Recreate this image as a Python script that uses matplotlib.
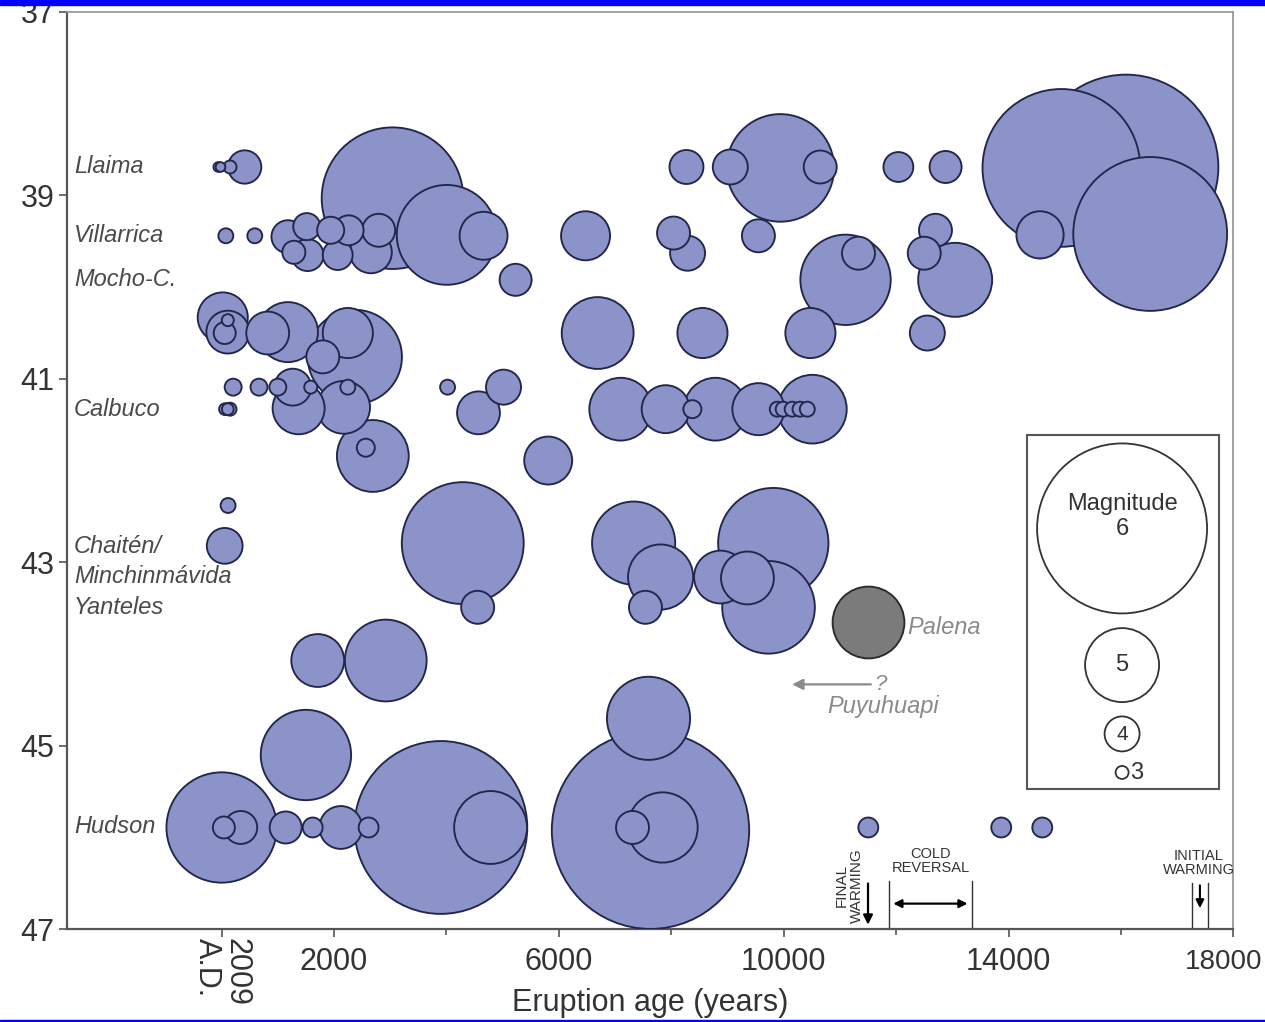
import numpy as np
import matplotlib
matplotlib.use("Agg")
import matplotlib.pyplot as plt
from matplotlib.patches import Rectangle

plt.rcParams["font.family"] = ["Liberation Sans", "DejaVu Sans"]

# eruptions as (age in years before 2009 A.D., latitude S, magnitude)
llaima = [(-60, 38.69, 2.7), (-20, 38.69, 2.7), (150, 38.69, 3.0), (410, 38.69, 3.95),
          (8270, 38.69, 3.97), (9050, 38.69, 4.0), (9940, 38.70, 5.45), (10650, 38.69, 3.94),
          (12040, 38.69, 3.84), (12880, 38.69, 3.91), (14940, 38.70, 5.91), (16090, 38.69, 6.10),
          (3040, 39.03, 5.78)]
villarrica = [(75, 39.44, 3.14), (590, 39.44, 3.14), (1180, 39.45, 3.94), (1515, 39.34, 3.74),
              (1285, 39.62, 3.58), (1530, 39.65, 3.91), (1940, 39.38, 3.74), (2065, 39.65, 3.84),
              (2260, 39.38, 3.84), (2655, 39.62, 4.24), (2795, 39.38, 3.94), (4005, 39.43, 5.36),
              (4660, 39.44, 4.42), (6475, 39.44, 4.45), (8040, 39.41, 3.94), (8290, 39.63, 4.0),
              (9550, 39.44, 3.94), (11330, 39.63, 3.94), (12700, 39.38, 3.94), (12500, 39.63, 3.94),
              (16520, 39.42, 5.88), (14560, 39.43, 4.40)]
mocho = [(5230, 39.92, 3.91), (11100, 39.92, 5.24), (13050, 39.92, 5.0)]
group_405 = [(20, 40.33, 4.48), (110, 40.49, 4.27), (110, 40.36, 2.92), (55, 40.50, 3.53),
             (820, 40.50, 4.27), (1180, 40.49, 4.72), (2245, 40.50, 4.48), (2370, 40.76, 5.29),
             (1800, 40.76, 3.94), (6690, 40.50, 4.96), (8555, 40.50, 4.48), (10475, 40.50, 4.48),
             (12555, 40.50, 4.0)]
calbuco = [(205, 41.09, 3.27), (665, 41.09, 3.27), (1000, 41.09, 3.27), (1265, 41.09, 4.07),
           (1585, 41.09, 3.0), (2245, 41.09, 3.14), (4020, 41.09, 3.14), (5015, 41.09, 4.0),
           (60, 41.33, 2.9), (110, 41.33, 2.9), (150, 41.33, 3.0), (1370, 41.32, 4.53),
           (2170, 41.31, 4.55), (4570, 41.37, 4.27), (7100, 41.33, 4.78), (7900, 41.33, 4.42),
           (8375, 41.33, 3.33), (8785, 41.33, 4.78), (9550, 41.33, 4.53), (9885, 41.33, 3.14),
           (9990, 41.33, 3.14), (10150, 41.33, 3.14), (10290, 41.33, 3.14), (10420, 41.33, 3.14),
           (10510, 41.33, 4.90), (2690, 41.84, 4.96), (2565, 41.75, 3.33), (5810, 41.89, 4.42)]
chaiten = [(115, 42.38, 3.14), (55, 42.82, 4.03), (4290, 42.79, 5.60), (4555, 43.49, 3.94),
           (7330, 42.79, 5.14), (7810, 43.16, 4.83), (7540, 43.49, 3.94), (9815, 42.79, 5.48),
           (8875, 43.16, 4.55), (9355, 43.17, 4.55), (9730, 43.49, 5.27)]
group_44 = [(1710, 44.07, 4.55), (2920, 44.07, 5.12), (1500, 45.10, 5.24), (7595, 44.70, 5.14)]
hudson = [(0, 45.89, 5.48), (40, 45.89, 3.53), (340, 45.89, 3.94), (1140, 45.89, 3.91),
          (1620, 45.89, 3.43), (2120, 45.89, 4.27), (2615, 45.89, 3.43), (3900, 45.89, 6.02),
          (4785, 45.89, 4.98), (7630, 45.92, 6.18), (7845, 45.89, 4.93), (7310, 45.89, 3.94),
          (11505, 45.89, 3.43), (13870, 45.89, 3.43), (14600, 45.89, 3.43)]
palena = [(11505, 43.65, 4.96)]

volcano_names = ["Llaima", "Villarrica", "Mocho-C.", "Calbuco", "Chaitén/",
                 "Minchinmávida", "Yanteles", "Hudson"]
volcano_lats = [38.69, 39.44, 39.92, 41.33, 42.83, 43.15, 43.49, 45.88]

legend_mags = [6, 5, 4, 3]

# magnitude -> circle diameter (pixels), taken from the legend scale
ref_mag = np.array([3, 4, 5, 6])
ref_logd = np.log10([13, 35, 74, 170])


def mag_to_px(m):
    m = np.asarray(m, dtype=float)
    logd = np.interp(m, ref_mag, ref_logd)
    logd = np.where(m < 3, ref_logd[0] + 0.43 * (m - 3), logd)
    logd = np.where(m > 6, ref_logd[-1] + 0.36 * (m - 6), logd)
    return 10 ** logd


def px_to_s(d):
    return (d * 72 / 100.0) ** 2


fig = plt.figure(figsize=(12.65, 10.22), dpi=100)
ax = fig.add_axes([0.0530, 0.0907, 0.9220, 0.8976])

fill = "#8b93c9"
edge = "#22264a"

pts = np.array(llaima + villarrica + mocho + group_405 + calbuco + chaiten + group_44 + hudson)
order = np.argsort(-pts[:, 2], kind="stable")
pts = pts[order]
ax.scatter(pts[:, 0], pts[:, 1], s=px_to_s(mag_to_px(pts[:, 2])), c=fill,
           edgecolors=edge, linewidths=1.35, zorder=3)

pal = np.array(palena)
ax.scatter(pal[:, 0], pal[:, 1], s=px_to_s(mag_to_px(pal[:, 2])), c="#7b7b7b",
           edgecolors="#2a2a2a", linewidths=1.35, zorder=3)
ax.text(12200, 43.71, "Palena", fontsize=17, style="italic", color="#8a8a8a",
        ha="left", va="center")

# Puyuhuapi arrow
ax.annotate("", xy=(10100, 44.33), xytext=(11600, 44.33),
            arrowprops=dict(arrowstyle="-|>", color="#8a8a8a", lw=1.6, mutation_scale=16))
ax.text(11620, 44.33, "?", fontsize=16, style="italic", color="#8a8a8a", ha="left", va="center")
ax.text(11772, 44.57, "Puyuhuapi", fontsize=17, style="italic", color="#8a8a8a",
        ha="center", va="center")

# volcano labels
for name, lat in zip(volcano_names, volcano_lats):
    ax.text(-2630, lat, name, fontsize=17, style="italic", color="#4a4a4a",
            ha="left", va="center")

# magnitude legend
ax.add_patch(Rectangle((14330, 41.61), 3415, 3.86, fill=False, edgecolor="#555555",
                       lw=1.5, zorder=4))
leg_lat = [42.63, 44.12, 44.87, 45.29]
ax.scatter([16020] * 4, leg_lat, s=px_to_s(mag_to_px(legend_mags)), c="white",
           edgecolors="#333333", linewidths=1.3, zorder=5)
ax.text(16020, 42.50, "Magnitude\n6", fontsize=17, color="#333333", ha="center",
        va="center", zorder=6)
ax.text(16020, 44.12, "5", fontsize=17, color="#333333", ha="center", va="center", zorder=6)
ax.text(16020, 44.88, "4", fontsize=15, color="#333333", ha="center", va="center", zorder=6)
ax.text(16170, 45.30, "3", fontsize=17, color="#333333", ha="left", va="center", zorder=6)

# climate events along the bottom
ax.annotate("", xy=(11500, 46.98), xytext=(11500, 46.47),
            arrowprops=dict(arrowstyle="-|>", color="black", lw=1.6, mutation_scale=14))
ax.text(11170, 46.52, "FINAL\nWARMING", fontsize=11, rotation=90, color="#333333",
        ha="center", va="center", linespacing=1.05)
for xv in [11870, 13350]:
    ax.plot([xv, xv], [46.47, 47], color="#333333", lw=1.0)
ax.annotate("", xy=(11900, 46.72), xytext=(13320, 46.72),
            arrowprops=dict(arrowstyle="<|-|>", color="black", lw=1.6, mutation_scale=12))
ax.text(12610, 46.26, "COLD\nREVERSAL", fontsize=10.5, color="#333333", ha="center",
        va="center", linespacing=1.0)
for xv in [17270, 17540]:
    ax.plot([xv, xv], [46.49, 47], color="#333333", lw=1.0)
ax.annotate("", xy=(17405, 46.80), xytext=(17405, 46.49),
            arrowprops=dict(arrowstyle="-|>", color="black", lw=1.5, mutation_scale=12))
ax.text(17380, 46.28, "INITIAL\nWARMING", fontsize=10.5, color="#333333", ha="center",
        va="center", linespacing=1.0)

ax.set_xlim(-2750, 18000)
ax.set_ylim(47, 37)
ax.set_xticks([0, 2000, 6000, 10000, 14000, 18000])
ax.set_xticklabels(["", "2000", "6000", "10000", "14000", ""])
ax.set_xticks([4000, 8000, 12000, 16000], minor=True)
ax.set_yticks([37, 39, 41, 43, 45, 47])
ax.tick_params(axis="both", which="major", labelsize=22, labelcolor="#333333",
               color="#555555", length=6, width=1.2, pad=3)
ax.tick_params(axis="x", which="major", pad=7)
ax.tick_params(axis="x", which="minor", color="#555555", length=4, width=1.2)
# last label sits squeezed against the right edge in the original
ax.annotate("18000", xy=(18000, 0), xycoords=("data", "axes fraction"),
            xytext=(-7, -14), textcoords="offset points", ha="center", va="top",
            fontsize=20, color="#333333")
ax.annotate("2009\nA.D.", xy=(0, 0), xycoords=("data", "axes fraction"),
            xytext=(0, -6), textcoords="offset points", rotation=-90,
            ha="center", va="top", fontsize=22, color="#333333", multialignment="left",
            linespacing=1.0)
ax.set_xlabel("Eruption age (years)", fontsize=22, color="#333333", labelpad=8)

for side in ["left", "bottom"]:
    ax.spines[side].set_color("#555555")
    ax.spines[side].set_linewidth(1.6)
for side in ["top", "right"]:
    ax.spines[side].set_color("#9a9a9a")
    ax.spines[side].set_linewidth(1.3)

# screenshot frame bands
fig.add_artist(Rectangle((0, 1 - 5 / 1022), 1, 5 / 1022, transform=fig.transFigure,
                         color="#0000ff", zorder=10))
fig.add_artist(Rectangle((0, 0), 1, 2 / 1022, transform=fig.transFigure,
                         color="#0000ff", zorder=10))

fig.savefig("out.png", dpi=100)
